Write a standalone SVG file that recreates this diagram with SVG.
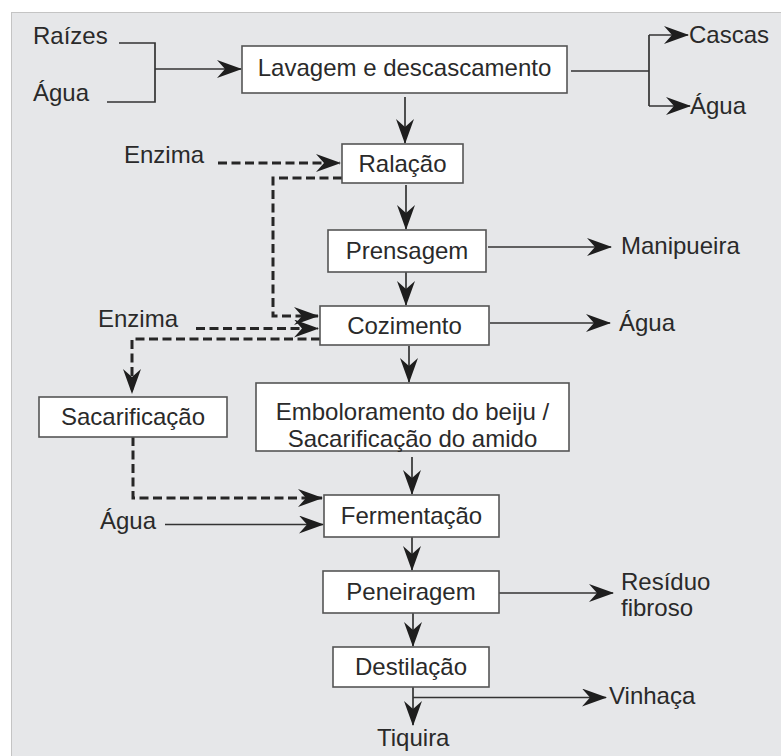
<svg xmlns="http://www.w3.org/2000/svg" width="781" height="756" viewBox="0 0 781 756">
<style>
.node rect{fill:#fff;stroke:#555;stroke-width:1.6}
text{font-family:"Liberation Sans",Arial,sans-serif;font-size:24px;fill:#2a2a2a}
.c{text-anchor:middle}
.ln{fill:none;stroke:#333;stroke-width:1.7}
.ds{fill:none;stroke:#262626;stroke-width:3;stroke-dasharray:9 4.5}
</style>
<defs>
<marker id="ah" markerUnits="userSpaceOnUse" markerWidth="25" markerHeight="18" refX="24" refY="9" orient="auto" viewBox="0 0 25 18">
<path d="M0,0 L25,9 L0,18 L8,9 Z" fill="#1e1e1e"/>
</marker>
</defs>
<rect x="0" y="0" width="781" height="756" fill="#fff"/>
<rect x="11.5" y="12.5" width="775" height="750" fill="#e6e7e9" stroke="#c4c4c4" stroke-width="1"/>

<g id="connectors">
<path class="ln" d="M119,43 H155 V102 H107"/>
<path class="ln" d="M155,69 H241" marker-end="url(#ah)"/>
<path class="ln" d="M571,71 H649 M649,35 V106"/>
<path class="ln" d="M649,35 H688" marker-end="url(#ah)"/>
<path class="ln" d="M649,106 H690" marker-end="url(#ah)"/>
<path class="ln" d="M405,97 V143" marker-end="url(#ah)"/>
<path class="ds" d="M218,163 H340" marker-end="url(#ah)"/>
<path class="ds" d="M342,178 H273 V316 H318" marker-end="url(#ah)"/>
<path class="ln" d="M406,185 V229" marker-end="url(#ah)"/>
<path class="ln" d="M488,247 H611" marker-end="url(#ah)"/>
<path class="ln" d="M406,272 V305" marker-end="url(#ah)"/>
<path class="ds" d="M196,328.5 H318" marker-end="url(#ah)"/>
<path class="ds" d="M320,339 H132 V393" marker-end="url(#ah)"/>
<path class="ln" d="M490,323 H610" marker-end="url(#ah)"/>
<path class="ln" d="M409,346 V382" marker-end="url(#ah)"/>
<path class="ds" d="M133,437 V498 H322" marker-end="url(#ah)"/>
<path class="ln" d="M165,524.5 H323" marker-end="url(#ah)"/>
<path class="ln" d="M412,457 V494" marker-end="url(#ah)"/>
<path class="ln" d="M412,537 V570" marker-end="url(#ah)"/>
<path class="ln" d="M499,593 H613" marker-end="url(#ah)"/>
<path class="ln" d="M413,613 V646" marker-end="url(#ah)"/>
<path class="ln" d="M413,697.5 H606" marker-end="url(#ah)"/>
<path class="ln" d="M413,687 V725" marker-end="url(#ah)"/>
</g>

<g id="in-raizes"><text x="33" y="44">Raízes</text></g>
<g id="in-agua1"><text x="33" y="101">Água</text></g>
<g id="lavagem" class="node"><rect x="242" y="46" width="325" height="47"/><text class="c" x="404.5" y="76">Lavagem e descascamento</text></g>
<g id="out-cascas"><text x="689" y="43">Cascas</text></g>
<g id="out-agua1"><text x="690" y="114">Água</text></g>
<g id="in-enzima1"><text x="124" y="163">Enzima</text></g>
<g id="ralacao" class="node"><rect x="342" y="144" width="121" height="39"/><text class="c" x="402.5" y="172">Ralação</text></g>
<g id="prensagem" class="node"><rect x="328" y="230" width="158" height="42"/><text class="c" x="407" y="259">Prensagem</text></g>
<g id="out-manipueira"><text x="621" y="254">Manipueira</text></g>
<g id="in-enzima2"><text x="98" y="327">Enzima</text></g>
<g id="cozimento" class="node"><rect x="320" y="306" width="169" height="39"/><text class="c" x="404.5" y="334">Cozimento</text></g>
<g id="out-agua2"><text x="619" y="331">Água</text></g>
<g id="emboloramento" class="node"><rect x="256" y="383" width="313" height="68"/><text class="c" x="412.5" y="420">Emboloramento do beiju /</text><text class="c" x="412.5" y="447">Sacarificação do amido</text></g>
<g id="sacarificacao" class="node"><rect x="39" y="397" width="188" height="40"/><text class="c" x="133" y="425">Sacarificação</text></g>
<g id="fermentacao" class="node"><rect x="324" y="495" width="175" height="42"/><text class="c" x="411.5" y="524">Fermentação</text></g>
<g id="in-agua3"><text x="100" y="529">Água</text></g>
<g id="peneiragem" class="node"><rect x="323" y="571" width="176" height="42"/><text class="c" x="411" y="600">Peneiragem</text></g>
<g id="out-residuo"><text x="621" y="590">Resíduo</text><text x="621" y="616">fibroso</text></g>
<g id="destilacao" class="node"><rect x="333" y="647" width="156" height="40"/><text class="c" x="411" y="675">Destilação</text></g>
<g id="out-vinhaca"><text x="609" y="704">Vinhaça</text></g>
<g id="out-tiquira"><text x="377" y="746">Tiquira</text></g>
</svg>
